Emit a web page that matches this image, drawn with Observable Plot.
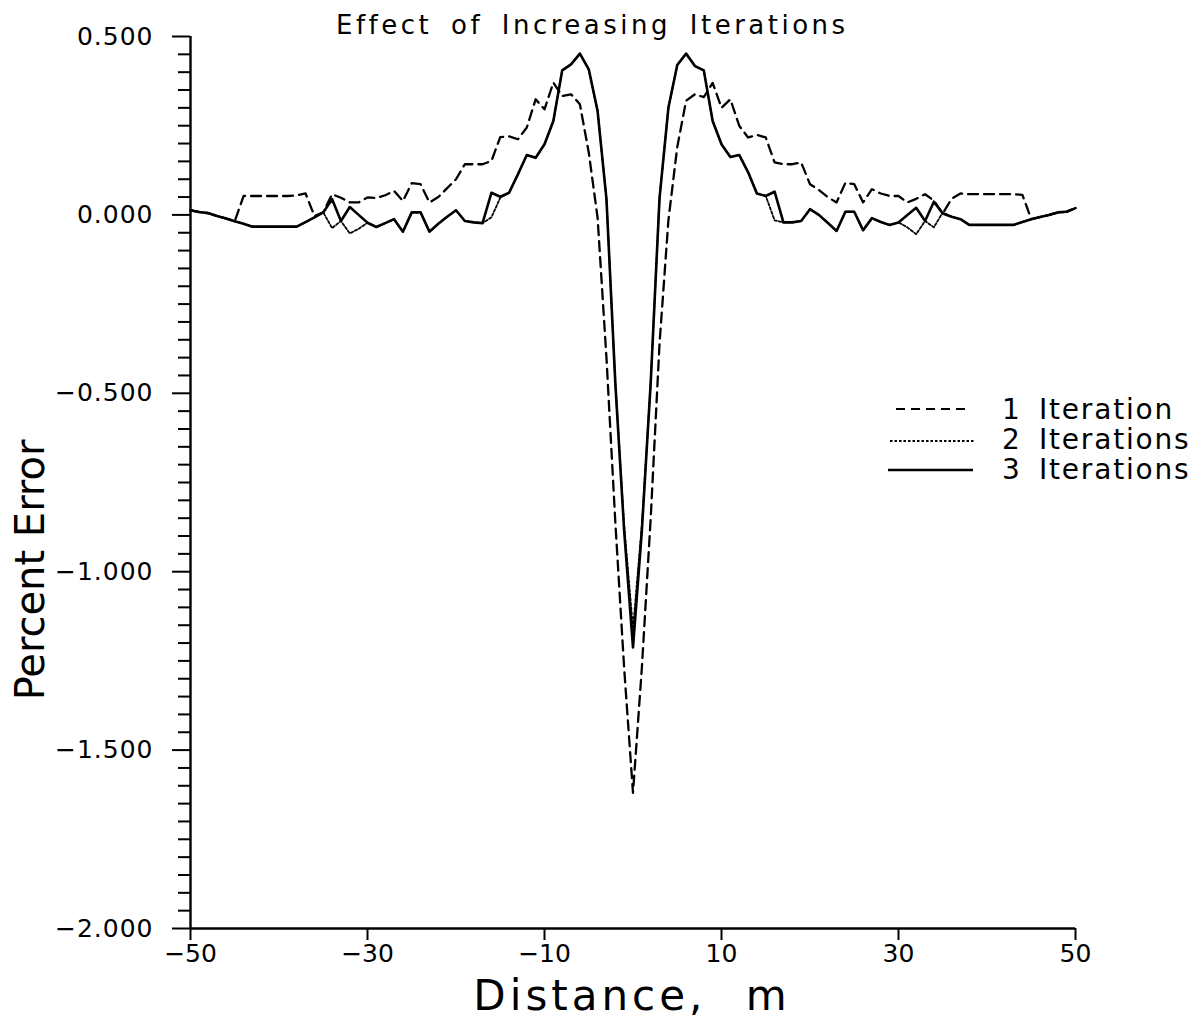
<!DOCTYPE html>
<html>
<head>
<meta charset="utf-8">
<script src="https://cdn.jsdelivr.net/npm/d3@7"></script>
<script src="https://cdn.jsdelivr.net/npm/@observablehq/plot@0.6"></script>
<style>
  html, body { margin: 0; padding: 0; background: #fff; }
  #wrap { position: relative; width: 1204px; height: 1019px; font-family: "DejaVu Sans", sans-serif; color: #000; overflow: hidden; }
  #chart svg { display: block; }
  .ov { position: absolute; line-height: 1; white-space: nowrap; }
  #title { left: 336px; top: 12px; font-size: 26px; letter-spacing: 3.5px; word-spacing: 7px; }
  #ylab { left: 30px; top: 570px; font-size: 40px; transform: translate(-50%, -50%) rotate(-90deg); letter-spacing: 0px; }
  #xlab { left: 632px; top: 975px; font-size: 42px; transform: translateX(-50%); letter-spacing: 4px; word-spacing: 22px; }
  .legnum, .legtxt { font-size: 28px; }
  .legtxt { letter-spacing: 1.8px; }
  g[aria-label="y-axis tick label"] { font-size: 25px; }
  g[aria-label="y-axis tick label"] text { letter-spacing: 1px; }
  g[aria-label="x-axis tick label"] { font-size: 25px; }
</style>
</head>
<body>
<div id="wrap">
  <div id="chart"></div>
</div>
<script>
// ---- data ----
const distance = [
  -50,-49,-48,-47,-46,-45,-44,-43,-42,-41,-40,-39,-38,-37,-36,-35,-34,-33,-32,-31,
  -30,-29,-28,-27,-26,-25,-24,-23,-22,-21,-20,-19,-18,-17,-16,-15,-14,-13,-12,-11,
  -10,-9,-8,-7,-6,-5,-4,-3,-2,-1,0,1,2,3,4,5,6,7,8,9,
  10,11,12,13,14,15,16,17,18,19,20,21,22,23,24,25,26,27,28,29,
  30,31,32,33,34,35,36,37,38,39,40,41,42,43,44,45,46,47,48,49,50
];

const iter1 = [
  0.013,0.008,0.005,-0.003,-0.010,-0.018,0.053,0.053,0.053,0.053,0.053,0.053,0.055,0.060,-0.003,0.007,0.058,0.048,0.035,0.035,
  0.049,0.047,0.055,0.067,0.039,0.089,0.086,0.035,0.050,0.075,0.100,0.142,0.142,0.142,0.151,0.218,0.220,0.212,0.245,0.324,
  0.296,0.371,0.333,0.338,0.310,0.175,-0.008,-0.400,-0.860,-1.270,-1.620,-1.270,-0.850,-0.360,-0.015,0.190,0.320,0.338,0.330,0.370,
  0.300,0.324,0.250,0.217,0.224,0.217,0.147,0.142,0.142,0.147,0.086,0.070,0.050,0.035,0.090,0.086,0.035,0.072,0.060,0.053,
  0.053,0.035,0.045,0.058,0.040,0.004,0.045,0.060,0.058,0.058,0.058,0.058,0.058,0.058,0.056,-0.012,-0.006,0.000,0.007,0.009,0.019
];

const iter2 = [
  0.013,0.008,0.005,-0.003,-0.010,-0.018,-0.025,-0.033,-0.033,-0.033,-0.033,-0.033,-0.033,-0.020,-0.007,0.007,-0.037,-0.017,-0.052,-0.039,
  -0.022,-0.034,-0.023,-0.012,-0.047,0.007,0.007,-0.047,-0.025,-0.005,0.013,-0.017,-0.021,-0.023,-0.007,0.048,0.062,0.114,0.168,0.160,
  0.198,0.263,0.405,0.422,0.452,0.408,0.291,0.045,-0.470,-0.870,-1.160,-0.870,-0.470,0.048,0.300,0.420,0.452,0.417,0.405,0.263,
  0.198,0.162,0.168,0.120,0.060,0.053,-0.015,-0.021,-0.021,-0.017,0.016,0.000,-0.022,-0.045,0.009,0.009,-0.043,-0.009,-0.020,-0.028,
  -0.021,-0.035,-0.054,-0.017,-0.035,0.007,-0.005,-0.012,-0.028,-0.028,-0.028,-0.028,-0.028,-0.028,-0.020,-0.012,-0.006,0.000,0.007,0.009,0.019
];

const iter3 = [
  0.013,0.008,0.005,-0.003,-0.010,-0.018,-0.025,-0.033,-0.033,-0.033,-0.033,-0.033,-0.033,-0.020,-0.007,0.007,0.044,-0.017,0.022,0.000,
  -0.022,-0.034,-0.023,-0.012,-0.047,0.007,0.007,-0.047,-0.025,-0.005,0.013,-0.017,-0.021,-0.023,0.062,0.051,0.062,0.114,0.168,0.160,
  0.198,0.263,0.405,0.422,0.452,0.408,0.291,0.045,-0.470,-0.885,-1.212,-0.885,-0.470,0.048,0.300,0.420,0.452,0.417,0.405,0.263,
  0.198,0.162,0.168,0.120,0.060,0.053,0.065,-0.021,-0.021,-0.017,0.016,0.000,-0.022,-0.045,0.009,0.009,-0.043,-0.009,-0.020,-0.028,
  -0.021,0.000,0.020,-0.017,0.037,0.004,-0.005,-0.012,-0.028,-0.028,-0.028,-0.028,-0.028,-0.028,-0.020,-0.012,-0.006,0.000,0.007,0.009,0.019
];

const xTickValues = [-50, -30, -10, 10, 30, 50];
const yTickValues = [-2, -1.5, -1, -0.5, 0, 0.5];
const xDomain = [-50, 50];
const yDomain = [-2, 0.5];

// ---- build tables ----
const toRows = (vals) => distance.map((d, i) => ({x: d, y: vals[i]}));
const rows1 = toRows(iter1), rows2 = toRows(iter2), rows3 = toRows(iter3);
const yMinor = d3.range(-40, 11).map(k => k * 0.05).filter(v => !yTickValues.some(t => Math.abs(t - v) < 1e-9));

const chart = Plot.plot({
  width: 1204,
  height: 1019,
  marginLeft: 190,
  marginRight: 129,
  marginTop: 36,
  marginBottom: 91,
  style: {fontFamily: '"DejaVu Sans", sans-serif', color: "#000", background: "#fff"},
  x: {domain: xDomain, inset: 0},
  y: {domain: yDomain, inset: 0},
  marks: [
    Plot.axisY(yMinor, {anchor: "left", tickSize: 12, tickFormat: () => "", strokeWidth: 2, label: null}),
    Plot.axisY(yTickValues, {anchor: "left", tickSize: 18, tickPadding: 19, tickFormat: d3.format(".3f"), fontSize: 25, strokeWidth: 2, label: null}),
    Plot.axisX(xTickValues, {anchor: "bottom", tickSize: 12, tickPadding: 4, tickFormat: d3.format("d"), fontSize: 25, strokeWidth: 2, label: null}),
    Plot.ruleX([xDomain[0]], {y1: yDomain[0], y2: yDomain[1], strokeWidth: 2.4}),
    Plot.ruleY([yDomain[0]], {x1: xDomain[0], x2: xDomain[1], strokeWidth: 2.4}),
    Plot.line(rows2, {x: "x", y: "y", stroke: "#000", strokeWidth: 1.8, strokeDasharray: "2.5,2"}),
    Plot.line(rows1, {x: "x", y: "y", stroke: "#000", strokeWidth: 2.3, strokeDasharray: "10,6"}),
    Plot.line(rows3, {x: "x", y: "y", stroke: "#000", strokeWidth: 2.6})
  ]
});
document.getElementById("chart").appendChild(chart);

// ---- overlays: title, axis labels, legend ----
const wrap = document.getElementById("wrap");
function addDiv(id, cls, text, style) {
  const d = document.createElement("div");
  if (id) d.id = id;
  d.className = "ov " + (cls || "");
  d.textContent = text;
  Object.assign(d.style, style || {});
  wrap.appendChild(d);
  return d;
}
addDiv("title", "", "Effect of Increasing Iterations");
addDiv("ylab", "", "Percent Error");
addDiv("xlab", "", "Distance, m");

const legendRows = [
  {num: "1", txt: "Iteration", top: 395.6, lineY: 409, x1: 896, x2: 970, dash: "9,6", sw: 2.2},
  {num: "2", txt: "Iterations", top: 426.3, lineY: 440.5, x1: 890, x2: 975, dash: "2.5,2", sw: 1.8},
  {num: "3", txt: "Iterations", top: 456.3, lineY: 470, x1: 888, x2: 973, dash: null, sw: 2.4}
];
const ns = "http://www.w3.org/2000/svg";
legendRows.forEach((r) => {
  addDiv(null, "legnum", r.num, {left: "1002px", top: r.top + "px"});
  addDiv(null, "legtxt", r.txt, {left: "1039px", top: r.top + "px"});
  const s = document.createElementNS(ns, "svg");
  s.setAttribute("width", 100); s.setAttribute("height", 10);
  s.style.position = "absolute"; s.style.left = "880px"; s.style.top = (r.lineY - 5) + "px";
  const l = document.createElementNS(ns, "line");
  l.setAttribute("x1", r.x1 - 880); l.setAttribute("x2", r.x2 - 880);
  l.setAttribute("y1", 5); l.setAttribute("y2", 5);
  l.setAttribute("stroke", "#000"); l.setAttribute("stroke-width", r.sw);
  if (r.dash) l.setAttribute("stroke-dasharray", r.dash);
  s.appendChild(l);
  wrap.appendChild(s);
});
</script>
</body>
</html>
